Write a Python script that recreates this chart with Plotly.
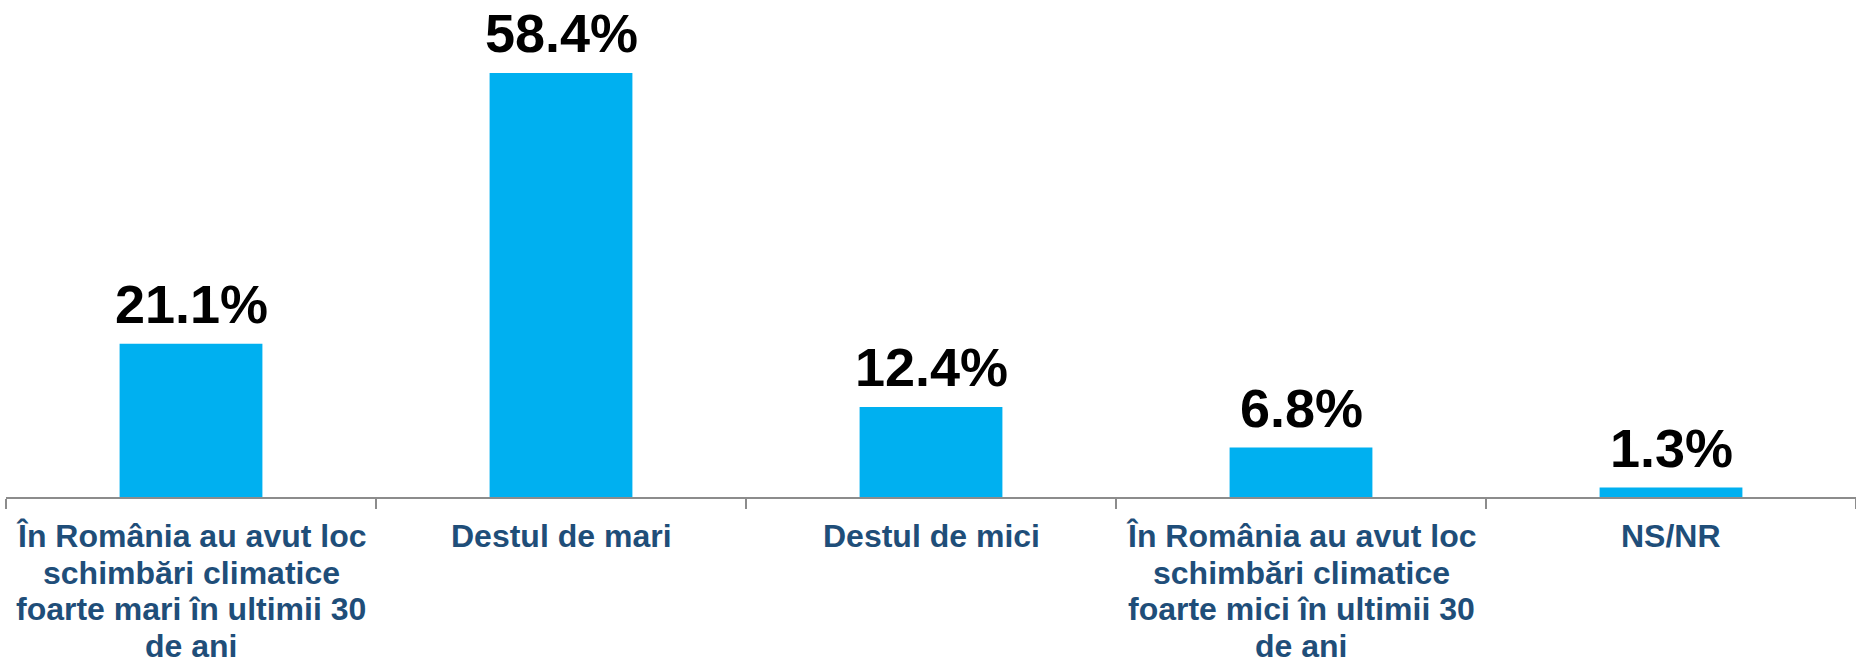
import plotly.graph_objects as go

categories = [
    "În România au avut loc<br>schimbări climatice<br>foarte mari în ultimii 30<br>de ani",
    "Destul de mari",
    "Destul de mici",
    "În România au avut loc<br>schimbări climatice<br>foarte mici în ultimii 30<br>de ani",
    "NS/NR",
]
values = [21.1, 58.4, 12.4, 6.8, 1.3]
value_labels = ["21.1%", "58.4%", "12.4%", "6.8%", "1.3%"]

FONT = "Liberation Sans, Arial, sans-serif"
LINE_STEP = 36.7

fig = go.Figure()
fig.add_trace(go.Bar(
    x=categories,
    y=values,
    marker=dict(color="#00B0F0", line=dict(width=0)),
    width=0.386,
    hoverinfo="skip",
))

# value labels above bars
for c, v, t in zip(categories, values, value_labels):
    fig.add_annotation(
        x=c, y=v, text=t, showarrow=False,
        xanchor="center", yanchor="bottom", yshift=8,
        font=dict(family=FONT, size=54, color="#000000", weight="bold"),
    )

# category labels under the axis (one annotation per line for tighter line spacing)
for c in categories:
    for i, line in enumerate(c.split("<br>")):
        fig.add_annotation(
            x=c, xref="x", y=0, yref="paper", text=line, showarrow=False,
            xanchor="center", yanchor="top", yshift=-(19 + i * LINE_STEP),
            font=dict(family=FONT, size=32, color="#1F4E79", weight="bold"),
        )

fig.update_layout(
    width=1856,
    height=660,
    margin=dict(l=6, r=0, t=25, b=163),
    paper_bgcolor="white",
    plot_bgcolor="white",
    showlegend=False,
    xaxis=dict(
        type="category",
        automargin=False,
        showline=True,
        linecolor="#8C8C8C",
        linewidth=2,
        ticks="outside",
        tickson="boundaries",
        ticklen=10,
        tickcolor="#8C8C8C",
        tickwidth=2,
        showticklabels=False,
        showgrid=False,
        zeroline=False,
    ),
    yaxis=dict(
        range=[0, 65],
        automargin=False,
        visible=False,
        showgrid=False,
        zeroline=False,
    ),
)

fig.write_html("out.html", config={"displayModeBar": False},
               post_script="document.body.style.margin='0';")
